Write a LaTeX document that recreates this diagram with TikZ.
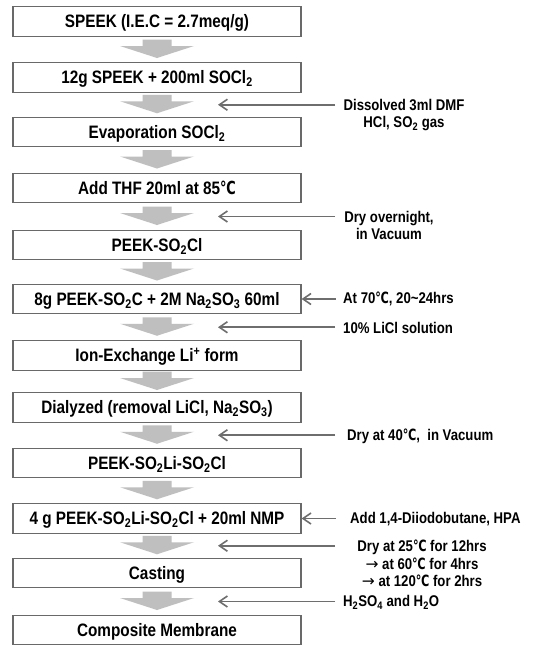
\documentclass[tikz,border=0pt]{standalone}
\usepackage{fontspec}
\setmainfont{Liberation Sans}[FakeStretch=0.85]
\newfontfamily\degfont{DejaVu Sans}[FakeStretch=0.72]
\newfontfamily\arrfont{DejaVu Sans}
\usetikzlibrary{arrows.meta,calc}
\newcommand{\degC}{{\degfont ℃}}
\newcommand{\rarr}{{\arrfont\mdseries →}}
\newcommand{\sbs}[1]{\textsubscript{#1}}
\definecolor{boxline}{RGB}{105,105,105}
\definecolor{fatgray}{RGB}{191,191,191}
\definecolor{sideline}{RGB}{110,110,110}
\tikzset{
  stepbox/.style={draw=boxline, line width=1.2pt, minimum width=288pt, minimum height=29.5pt,
    inner sep=0pt, font=\fontsize{18}{21}\selectfont\bfseries, text height=12.9pt, text depth=0pt},
  sidelabel/.style={inner sep=0pt, font=\fontsize{15.5}{17.5}\selectfont\bfseries},
  onelabel/.style={sidelabel, anchor=west, text height=11.1pt, text depth=0pt},
  sidearrow/.style={draw=sideline, line width=1.8pt,
    -{Straight Barb[length=8pt,width=11pt,line width=1.6pt]}},
  pics/fatarrow/.style={code={
    \fill[fatgray] (-14.5,-10) -- (14.5,-10) -- (14.5,-3.5) -- (37,-3.5) -- (0,8.5)
      -- (-37,-3.5) -- (-14.5,-3.5) -- cycle;}}
}
\begin{document}
\begin{tikzpicture}[x=1pt,y=-1pt]
\fill[white] (0,0) rectangle (543,645);
\useasboundingbox (0,0) rectangle (543,645);

% process boxes
\node[stepbox] (b1)  at (157,21.5)  {SPEEK (I.E.C = 2.7meq/g)};
\node[stepbox] (b2)  at (157,77.5)  {12g SPEEK + 200ml SOCl\sbs{2}};
\node[stepbox] (b3)  at (157,132)   {Evaporation SOCl\sbs{2}};
\node[stepbox] (b4)  at (157,188)   {Add THF 20ml at 85\degC};
\node[stepbox] (b5)  at (157,245)   {PEEK-SO\sbs{2}Cl};
\node[stepbox] (b6)  at (157,299)   {8g PEEK-SO\sbs{2}C + 2M Na\sbs{2}SO\sbs{3} 60ml};
\node[stepbox] (b7)  at (157,355.5) {Ion-Exchange Li\textsuperscript{+} form};
\node[stepbox] (b8)  at (157,407.5) {Dialyzed (removal LiCl, Na\sbs{2}SO\sbs{3})};
\node[stepbox] (b9)  at (157,463)   {PEEK-SO\sbs{2}Li-SO\sbs{2}Cl};
\node[stepbox] (b10) at (157,518.5) {4 g PEEK-SO\sbs{2}Li-SO\sbs{2}Cl + 20ml NMP};
\node[stepbox] (b11) at (157,573)   {Casting};
\node[stepbox] (b12) at (157,630)   {Composite Membrane};

% big gray arrows between boxes
\foreach \a/\b [count=\i] in {b1/b2,b2/b3,b3/b4,b4/b5,b5/b6,b6/b7,b7/b8,b8/b9,b9/b10,b10/b11,b11/b12}{
  \coordinate (g\i) at ($(\a.south)!0.5!(\b.north)$);
  \pic at (g\i) {fatarrow};
}

% side arrows into gaps
\foreach \i/\n in {2/A,4/B,6/D,8/E,10/G,11/H}{
  \coordinate (tip\n) at ($(g\i)+(61,0)$);
  \coordinate (tail\n) at ($(g\i)+(178,0)$);
  \draw[sidearrow] (tail\n) -- (tip\n);
}
% side arrows into boxes
\coordinate (tailC) at ($(b6.east)+(34,0)$);
\draw[sidearrow] (tailC) -- (b6.east);
\coordinate (tailF) at ($(b10.east)+(34,0)$);
\draw[sidearrow] (tailF) -- (b10.east);

% side labels
\node[sidelabel, align=center, anchor=north] (la) at (404,98.7)
  {Dissolved 3ml DMF\\HCl, SO\sbs{2} gas};
\node[sidelabel, align=center, anchor=north] (lb) at (389,210.7)
  {Dry overnight,\\in Vacuum};
\node[onelabel] (lc) at (343,298) {At 70\degC, 20\textasciitilde24hrs};
\node[onelabel] (ld) at (343,328) {10\% LiCl solution};
\node[onelabel] (le) at (347,435) {Dry at 40\degC,~ in Vacuum};
\node[onelabel] (lf) at (350,518) {Add 1,4-Diiodobutane, HPA};
\node[sidelabel, align=center, anchor=north] (lg) at (422,540)
  {Dry at 25\degC\ for 12hrs\\\rarr\ at 60\degC\ for 4hrs\\\rarr\ at 120\degC\ for 2hrs};
\node[onelabel] (lh) at (343,601) {H\sbs{2}SO\sbs{4} and H\sbs{2}O};
\end{tikzpicture}
\end{document}
